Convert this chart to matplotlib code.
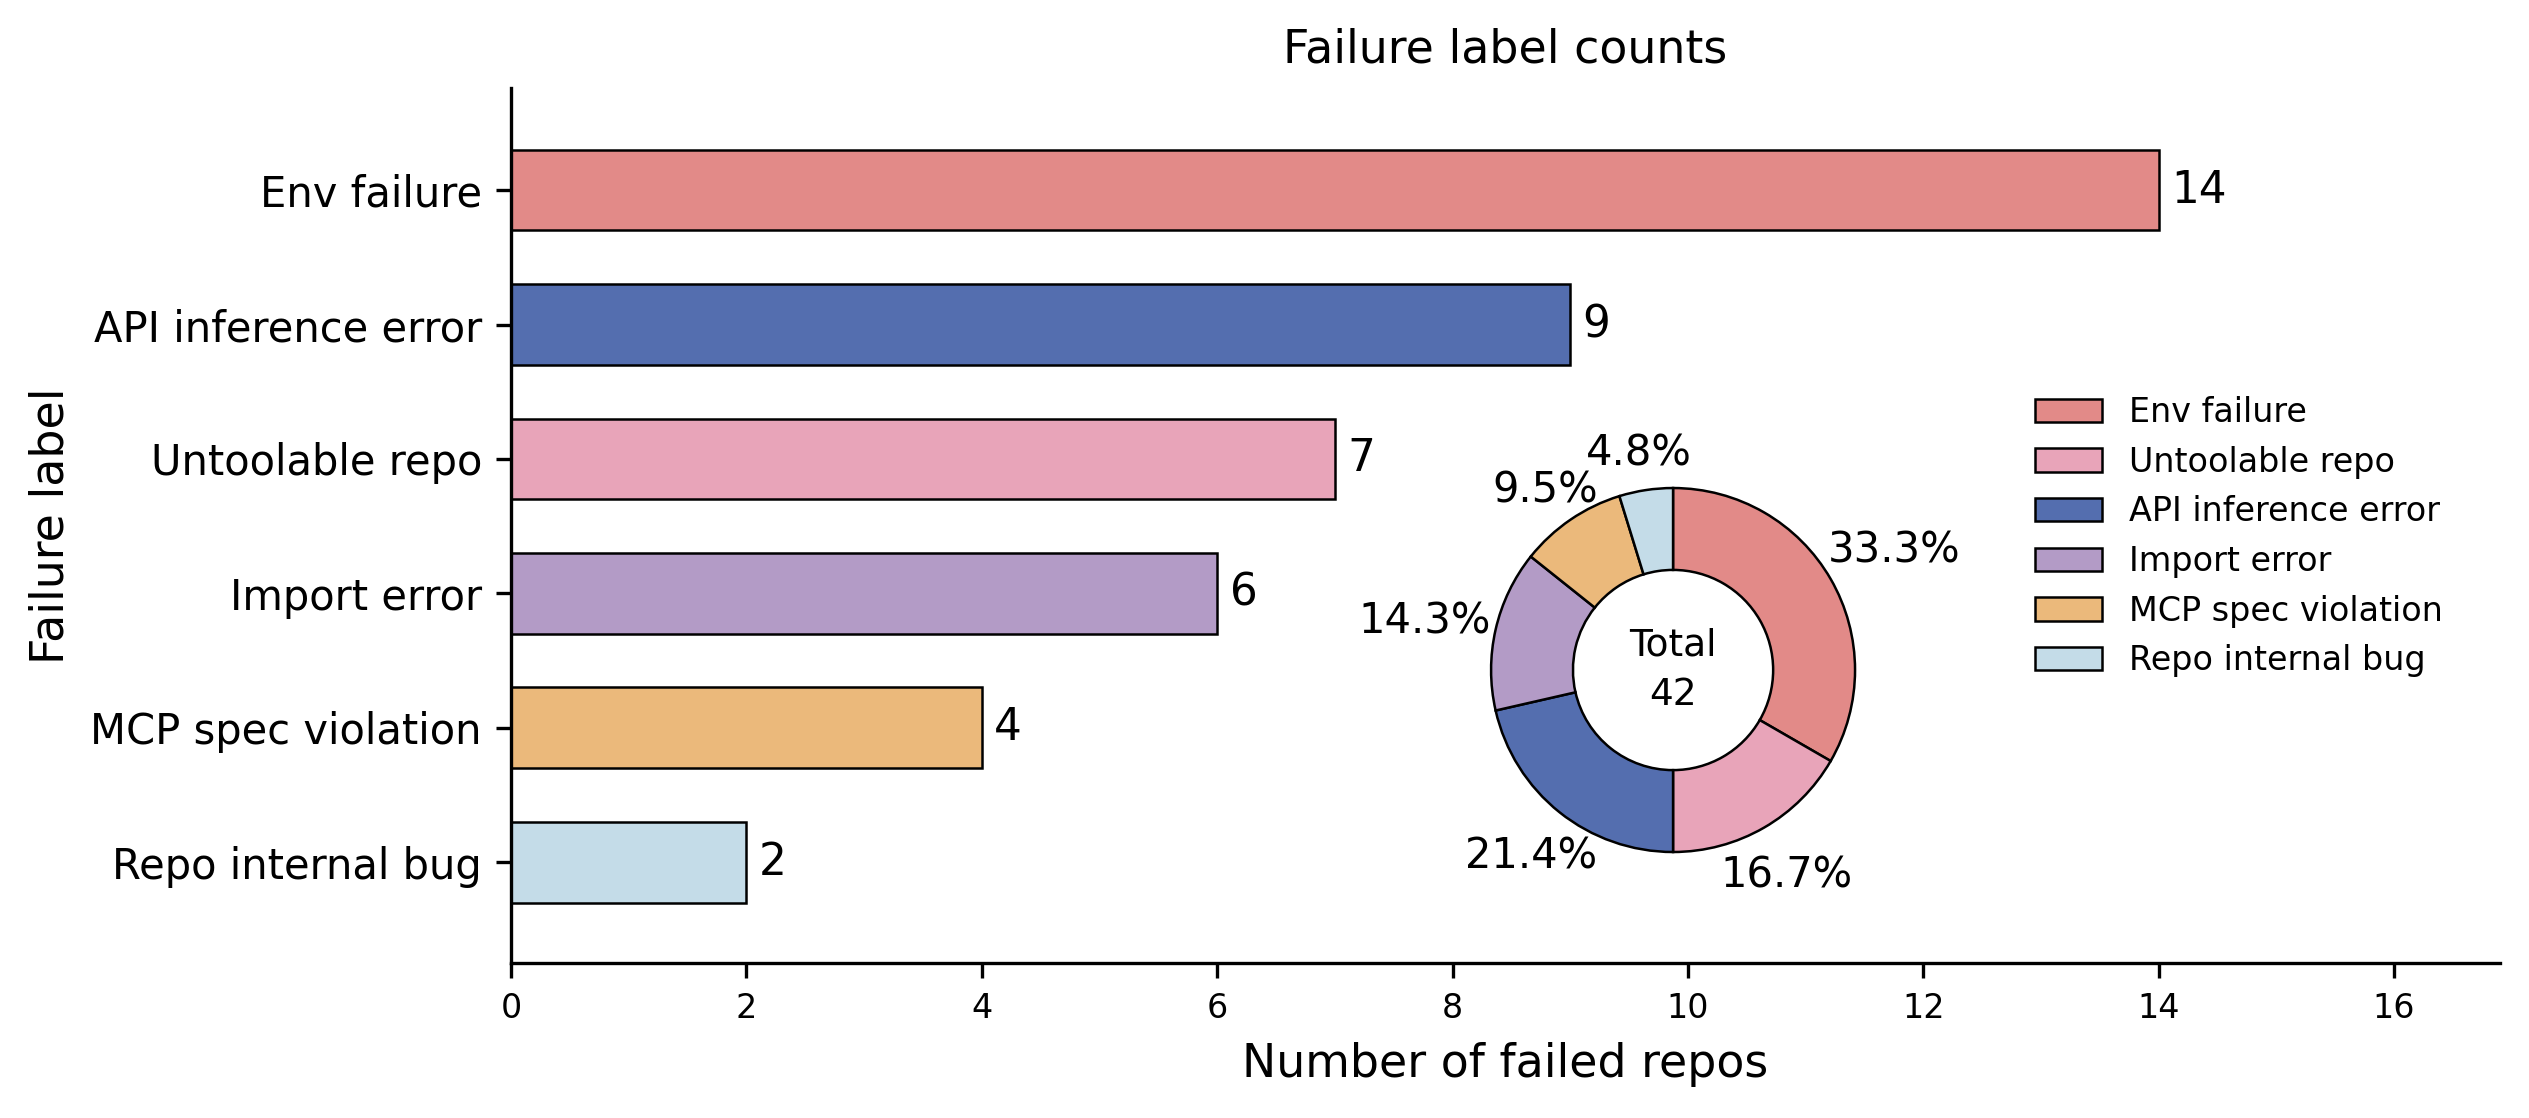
import numpy as np
import matplotlib
matplotlib.use("Agg")
import matplotlib.pyplot as plt

# bar chart data (sorted by count)
bar_labels = ["Env failure", "API inference error", "Untoolable repo",
              "Import error", "MCP spec violation", "Repo internal bug"]
bar_counts = [14, 9, 7, 6, 4, 2]

# donut data (legend order)
pie_labels = ["Env failure", "Untoolable repo", "API inference error",
              "Import error", "MCP spec violation", "Repo internal bug"]
pie_counts = [14, 7, 9, 6, 4, 2]

colors = {
    "Env failure": "#E28A88",
    "API inference error": "#546EAF",
    "Untoolable repo": "#E8A4B9",
    "Import error": "#B39BC6",
    "MCP spec violation": "#EBB97B",
    "Repo internal bug": "#C4DCE8",
}

fig = plt.figure(figsize=(2529 / 300, 1118 / 300), dpi=300)
ax = fig.add_axes([0.2021, 0.1386, 0.7864, 0.7827])

y = np.arange(len(bar_labels))
bars = ax.barh(y, bar_counts, height=0.6,
               color=[colors[l] for l in bar_labels],
               edgecolor="black", linewidth=0.6)
ax.bar_label(bars, labels=[str(c) for c in bar_counts], padding=3, fontsize=10.5)

ax.set_yticks(y)
ax.set_yticklabels(bar_labels, fontsize=10)
ax.set_ylim(5.75, -0.76)
ax.set_xlim(0, 16.9)
ax.set_xticks(np.arange(0, 17, 2))
ax.tick_params(axis="x", labelsize=8)
ax.spines["top"].set_visible(False)
ax.spines["right"].set_visible(False)
ax.set_xlabel("Number of failed repos", fontsize=11)
ax.set_ylabel("Failure label", fontsize=11)
ax.set_title("Failure label counts", fontsize=11)

# donut inset
pax = fig.add_axes([0.5716, 0.1972, 0.1799, 0.407])
wedges, texts, autotexts = pax.pie(
    pie_counts, colors=[colors[l] for l in pie_labels],
    startangle=90, counterclock=False,
    autopct="%1.1f%%", pctdistance=1.3,
    wedgeprops=dict(width=0.45, edgecolor="black", linewidth=0.6),
    textprops=dict(fontsize=10))
# labels on the left/right sides sit further out (they're wide)
for w, t in zip(wedges, autotexts):
    ang = np.deg2rad((w.theta1 + w.theta2) / 2)
    side = np.clip((abs(np.cos(ang)) - 0.65) / 0.2, 0, 1)
    r = 1.25 + 0.15 * side
    t.set_position((r * np.cos(ang), r * np.sin(ang) - 0.045))
pax.set_aspect("equal")
pax.text(0, 0, "Total\n" + str(sum(pie_counts)), ha="center", va="center",
         fontsize=9, linespacing=1.5)

fig.legend(wedges, pie_labels, loc="center left",
           bbox_to_anchor=(0.793, 0.520), frameon=False, fontsize=8)

fig.savefig("out.png", dpi=300)
